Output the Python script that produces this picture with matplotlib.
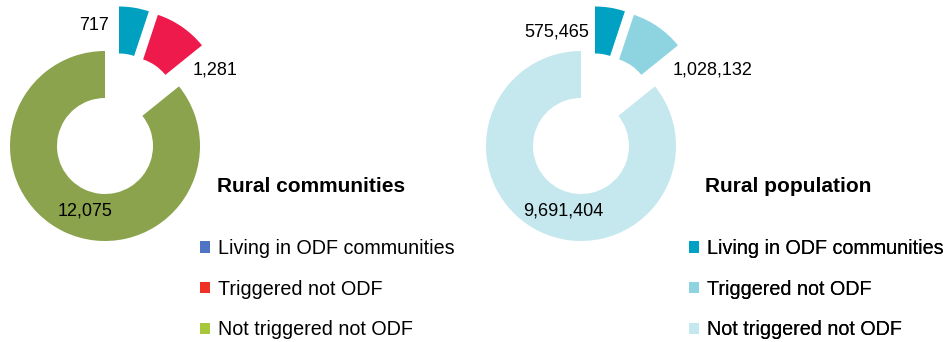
import matplotlib
matplotlib.use("Agg")
import matplotlib.pyplot as plt
from matplotlib.patches import Patch

plt.rcParams['font.family'] = ['Liberation Sans', 'DejaVu Sans']

categories = ['Living in ODF communities', 'Triggered not ODF', 'Not triggered not ODF']
communities = [717, 1281, 12075]
population = [575465, 1028132, 9691404]

comm_colors = ['#00a0c0', '#ee1a4c', '#8aa34c']
comm_legend_colors = ['#4f74c4', '#ee3124', '#a6c83a']
pop_colors = ['#00a1c2', '#8ed4e0', '#c5e8ef']

W, H = 944, 342
fig = plt.figure(figsize=(9.44, 3.42), dpi=100)
ax = fig.add_axes([0, 0, 1, 1])
ax.set_xlim(0, W)
ax.set_ylim(0, H)
ax.set_aspect('equal')
ax.axis('off')

R, RING = 95, 47
# pull-out offsets of the two small slices (pixels, x right / y up)
OFFSETS = [(14, 44.5), (23, 41), (0, 0)]


def donut(values, colors, cx, cy):
    wedges, _ = ax.pie(values, colors=colors, center=(cx, H - cy), radius=R,
                       startangle=90, counterclock=False,
                       wedgeprops=dict(width=RING, linewidth=0), frame=True)
    for w, (dx, dy) in zip(wedges, OFFSETS):
        w.set_center((cx + dx, H - cy + dy))


def fmt(v):
    return f'{v:,}'


# left: rural communities
donut(communities, comm_colors, 105, 146)
ax.text(109, H - 25, fmt(communities[0]), ha='right', va='center', fontsize=13)
ax.text(193, H - 70, fmt(communities[1]), ha='left', va='center', fontsize=13)
ax.text(85, H - 211, fmt(communities[2]), ha='center', va='center', fontsize=13)
ax.text(217, H - 186, 'Rural communities', ha='left', va='center',
        fontsize=15, fontweight='bold')

# right: rural population
donut(population, pop_colors, 581, 146)
ax.text(589, H - 32, fmt(population[0]), ha='right', va='center', fontsize=13)
ax.text(673, H - 70, fmt(population[1]), ha='left', va='center', fontsize=13)
ax.text(563, H - 211, fmt(population[2]), ha='center', va='center', fontsize=13)
ax.text(705, H - 186, 'Rural population', ha='left', va='center',
        fontsize=15, fontweight='bold')

ax.set_xlim(0, W)
ax.set_ylim(0, H)


def legend(colors, x, y):
    handles = [Patch(facecolor=c, edgecolor='none') for c in colors]
    leg = ax.legend(handles, categories, loc='upper left',
                    bbox_to_anchor=(x / W, 1 - y / H), bbox_transform=fig.transFigure,
                    frameon=False, fontsize=14.2, handlelength=0.5, handleheight=0.5,
                    handletextpad=0.4, labelspacing=1.1, borderpad=0, borderaxespad=0)
    ax.add_artist(leg)


legend(comm_legend_colors, 200, 239)
legend(pop_colors, 689, 239)

fig.savefig('out.png', dpi=100)
